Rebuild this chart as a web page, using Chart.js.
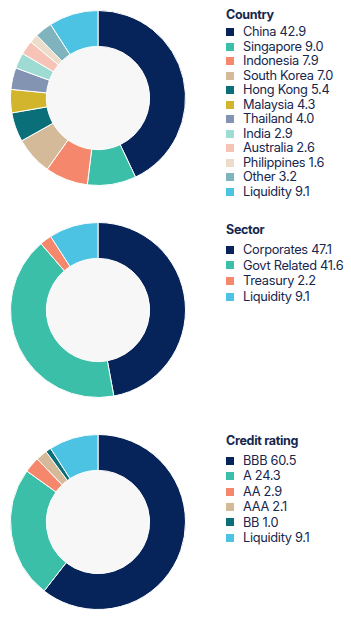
<!DOCTYPE html>
<html>
<head>
<meta charset="utf-8">
<script src="https://cdn.jsdelivr.net/npm/chart.js@4"></script>
<style>
  body { margin: 0; background: #fff; width: 351px; height: 621px; position: relative; overflow: hidden; font-family: Inter, "Noto Sans", sans-serif; color: #16264d; }
  .pie { position: absolute; left: 10px; width: 176px; height: 176px; }
  .legend { position: absolute; left: 226px; }
  .legend h3 { margin: 0; font-size: 12.5px; font-weight: 700; letter-spacing: -0.3px; line-height: 15px; }
  .legend .row { font-size: 12.8px; letter-spacing: -0.3px; display: flex; align-items: center; white-space: nowrap; }
  .legend .sw { width: 8px; height: 8px; margin-right: 9px; flex: none; }
</style>
</head>
<body>
<canvas id="countryChart" class="pie" style="top:10px"></canvas>
<canvas id="sectorChart" class="pie" style="top:222px"></canvas>
<canvas id="ratingChart" class="pie" style="top:434px"></canvas>
<div id="countryLegend" class="legend" style="top:7px"></div>
<div id="sectorLegend" class="legend" style="top:222px"></div>
<div id="ratingLegend" class="legend" style="top:433px"></div>
<script>
const countryLabels = ['China', 'Singapore', 'Indonesia', 'South Korea', 'Hong Kong', 'Malaysia', 'Thailand', 'India', 'Australia', 'Philippines', 'Other', 'Liquidity'];
const countryValues = [42.9, 9.0, 7.9, 7.0, 5.4, 4.3, 4.0, 2.9, 2.6, 1.6, 3.2, 9.1];
const countryColors = ['#06245a', '#3cbfa8', '#f5886c', '#d4ba98', '#0a6f78', '#d2b52c', '#8393b2', '#9edcd3', '#f7c3b7', '#ecdcca', '#7fb3bd', '#4dc3e3'];

const sectorLabels = ['Corporates', 'Govt Related', 'Treasury', 'Liquidity'];
const sectorValues = [47.1, 41.6, 2.2, 9.1];
const sectorColors = ['#06245a', '#3cbfa8', '#f5886c', '#4dc3e3'];

const ratingLabels = ['BBB', 'A', 'AA', 'AAA', 'BB', 'Liquidity'];
const ratingValues = [60.5, 24.3, 2.9, 2.1, 1.0, 9.1];
const ratingColors = ['#06245a', '#3cbfa8', '#f5886c', '#d4ba98', '#0a6f78', '#4dc3e3'];

const holeFill = {
    id: 'holeFill',
    beforeDatasetsDraw(chart) {
        const arc = chart.getDatasetMeta(0).data[0];
        if (!arc) return;
        const ctx = chart.ctx;
        ctx.save();
        ctx.fillStyle = '#f7f7f7';
        ctx.beginPath();
        ctx.arc(arc.x, arc.y, arc.innerRadius, 0, Math.PI * 2);
        ctx.fill();
        ctx.restore();
    }
};

function makeDonut(id, labels, values, colors) {
    new Chart(document.getElementById(id), {
        type: 'doughnut',
        data: {
            labels: labels,
            datasets: [{
                data: values,
                backgroundColor: colors,
                borderColor: '#ffffff',
                borderWidth: 1,
                hoverOffset: 0,
            }]
        },
        options: {
            responsive: false,
            animation: false,
            cutout: '59%',
            layout: { padding: 0 },
            plugins: {
                legend: { display: false },
                tooltip: { enabled: false },
            }
        },
        plugins: [holeFill]
    });
}

// rowHeight / gap differ a little per block in the reference
function makeLegend(id, title, labels, values, colors, rowHeight, gap) {
    const el = document.getElementById(id);
    let html = '<h3 style="margin-bottom:' + gap + 'px">' + title + '</h3>';
    labels.forEach((l, i) => {
        html += '<div class="row" style="line-height:' + rowHeight + 'px"><span class="sw" style="background:' + colors[i] + '"></span>' +
            l + ' ' + values[i].toFixed(1) + '</div>';
    });
    el.innerHTML = html;
}

makeDonut('countryChart', countryLabels, countryValues, countryColors);
makeDonut('sectorChart', sectorLabels, sectorValues, sectorColors);
makeDonut('ratingChart', ratingLabels, ratingValues, ratingColors);

makeLegend('countryLegend', 'Country', countryLabels, countryValues, countryColors, 14.5, 3);
makeLegend('sectorLegend', 'Sector', sectorLabels, sectorValues, sectorColors, 15.6, 5);
makeLegend('ratingLegend', 'Credit rating', ratingLabels, ratingValues, ratingColors, 15.4, 5);
</script>
</body>
</html>
